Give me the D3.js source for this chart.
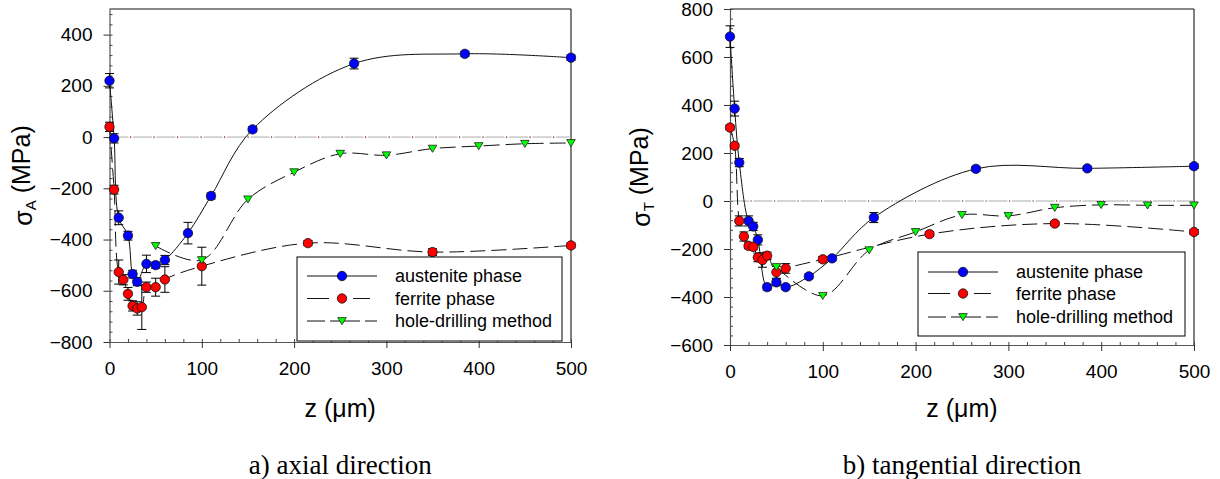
<!DOCTYPE html>
<html>
<head>
<meta charset="utf-8">
<script src="https://cdn.jsdelivr.net/npm/d3@7"></script>
<style>
  html, body { margin: 0; padding: 0; background: #ffffff; }
  svg { display: block; }
  text { font-family: "Liberation Sans", Arial, sans-serif; fill: #000; }
</style>
</head>
<body>
<svg id="chart" width="1220" height="479"></svg>
<script>
// ---- (a) axial direction ----
const axialAusZ   = [0, 5, 10, 20, 25, 30, 40, 50, 60, 85, 110, 155, 265, 385, 500];
const axialAusS   = [220, -5, -315, -385, -535, -565, -495, -500, -480, -375, -230, 30, 287, 325, 310];
const axialAusErr = [28, 18, 27, 17, 15, 15, 34, 12, 18, 42, 12, 10, 21, 10, 10];

const axialFerZ   = [0, 5, 10, 15, 20, 25, 30, 35, 40, 50, 60, 100, 215, 350, 500];
const axialFerS   = [40, -205, -527, -557, -612, -659, -669, -664, -586, -586, -556, -504, -414, -449, -423];
const axialFerErr = [18, 17, 47, 20, 25, 20, 26, 87, 20, 35, 50, 74, 10, 13, 10];

const axialHoleZ  = [50, 100, 150, 200, 250, 300, 350, 400, 450, 500];
const axialHoleS  = [-425, -480, -243, -137, -65, -71, -45, -35, -26, -23];

// ---- (b) tangential direction ----
const tangAusZ    = [0, 5, 10, 20, 25, 30, 40, 50, 60, 85, 110, 155, 265, 385, 500];
const tangAusS    = [685, 385, 160, -83, -106, -162, -359, -339, -359, -314, -239, -69, 134, 136, 145];
const tangAusErr  = [45, 31, 17, 21, 17, 21, 12, 14, 10, 10, 10, 21, 10, 8, 10];

const tangFerZ    = [0, 5, 10, 15, 20, 25, 30, 35, 40, 50, 60, 100, 215, 350, 500];
const tangFerS    = [306, 230, -83, -148, -187, -191, -235, -246, -228, -297, -281, -243, -138, -94, -129];
const tangFerErr  = [10, 10, 21, 19, 12, 12, 18, 30, 15, 25, 20, 12, 10, 8, 10];

const tangHoleZ   = [50, 100, 150, 200, 250, 300, 350, 400, 450, 500];
const tangHoleS   = [-275, -395, -205, -129, -58, -62, -28, -16, -18, -18];

// ---- axes, labels ----
const zTicks        = [0, 100, 200, 300, 400, 500];
const axialTicks    = [-800, -600, -400, -200, 0, 200, 400];
const tangTicks     = [-600, -400, -200, 0, 200, 400, 600, 800];
const seriesNames   = ["austenite phase", "ferrite phase", "hole-drilling method"];
const panelCaptions = ["a) axial direction", "b) tangential direction"];
const yTitleSubs    = ["A", "T"];

const svg = d3.select("#chart");

const styles = [
  { dash: null,   legendDash: null,              fill: "#0000ff", shape: "circle" },
  { dash: "15,6", legendDash: "22,24,17,100",    fill: "#ff0000", shape: "circle" },
  { dash: "16,6", legendDash: "18,5,30,5,15,50", fill: "#00ff00", shape: "triangle" }
];

function marker(g, shape, fill, x, y) {
  if (shape === "circle") {
    g.append("circle").attr("cx", x).attr("cy", y).attr("r", 4.7)
      .attr("fill", fill).attr("stroke", "#111").attr("stroke-width", 0.8);
  } else {
    g.append("path")
      .attr("d", `M${x - 4.3},${y - 3.4}L${x + 4.3},${y - 3.4}L${x},${y + 3.7}Z`)
      .attr("fill", fill).attr("stroke", "#222").attr("stroke-width", 0.8);
  }
}

function panel(opt) {
  const x = d3.scaleLinear().domain([0, 500]).range(opt.xRange);
  const y = d3.scaleLinear().domain(opt.yDomain).range(opt.yRange);
  const g = svg.append("g");
  const [x0, x1] = opt.xRange;
  const [yb, yt] = opt.yRange;

  // frame: top and right edges
  g.append("line").attr("x1", x0).attr("x2", x1).attr("y1", yt).attr("y2", yt)
    .attr("stroke", "#888").attr("stroke-width", 2);
  g.append("line").attr("x1", x1).attr("x2", x1).attr("y1", yt).attr("y2", yb)
    .attr("stroke", "#000").attr("stroke-width", 1);

  // minor ticks (inward)
  const yMinor = d3.range(opt.yDomain[0], opt.yDomain[1] + 1, 40);
  g.append("g").attr("transform", `translate(${x0},0)`)
    .call(d3.axisLeft(y).tickValues(yMinor).tickSize(-3).tickFormat("").tickSizeOuter(0))
    .call(a => a.select(".domain").remove())
    .call(a => a.selectAll("line").attr("stroke", "#444"));
  g.append("g").attr("transform", `translate(0,${yb})`)
    .call(d3.axisBottom(x).tickValues(d3.range(0, 501, 20)).tickSize(-3).tickFormat("").tickSizeOuter(0))
    .call(a => a.select(".domain").remove())
    .call(a => a.selectAll("line").attr("stroke", "#444"));

  // major axes
  const ya = g.append("g").attr("transform", `translate(${x0},0)`)
    .call(d3.axisLeft(y).tickValues(opt.yTicks).tickSize(6).tickPadding(11).tickSizeOuter(0));
  const xa = g.append("g").attr("transform", `translate(0,${yb})`)
    .call(d3.axisBottom(x).tickValues(zTicks).tickSize(6).tickPadding(14).tickSizeOuter(0));
  [ya, xa].forEach(a => {
    a.select(".domain").attr("stroke", "#555").attr("stroke-width", 1.2);
    a.selectAll("line").attr("stroke", "#333");
    a.selectAll("text").style("font-size", "19px").style("font-family", "'Liberation Sans', Arial, sans-serif");
  });

  // zero reference line
  g.append("line").attr("x1", x0).attr("x2", x1).attr("y1", y(0)).attr("y2", y(0))
    .attr("stroke", "#aaa").attr("stroke-width", 1).attr("stroke-dasharray", "19,4.5");
  g.append("line").attr("x1", x0 + 20.5).attr("x2", x1).attr("y1", y(0)).attr("y2", y(0))
    .attr("stroke", "#800000").attr("stroke-width", 1.2).attr("stroke-dasharray", "1.2,22.3");

  const line = d3.line().x(d => x(d[0])).y(d => y(d[1])).curve(d3.curveCatmullRom.alpha(0.5));

  opt.series.forEach((s, i) => {
    const st = styles[i];
    const pts = s.z.map((z, k) => [z, s.s[k]]);
    g.append("path").attr("d", line(pts)).attr("fill", "none")
      .attr("stroke", "#111").attr("stroke-width", 1)
      .attr("stroke-dasharray", st.dash);
  });

  // error bars
  opt.series.forEach(s => {
    if (!s.err) return;
    s.z.forEach((z, k) => {
      const cx = x(z), lo = y(s.s[k] - s.err[k]), hi = y(s.s[k] + s.err[k]);
      g.append("line").attr("x1", cx).attr("x2", cx).attr("y1", lo).attr("y2", hi).attr("stroke", "#000");
      [lo, hi].forEach(v => g.append("line").attr("x1", cx - 4.5).attr("x2", cx + 4.5)
        .attr("y1", v).attr("y2", v).attr("stroke", "#000"));
    });
  });

  // markers
  opt.series.forEach((s, i) => {
    const st = styles[i];
    s.z.forEach((z, k) => marker(g, st.shape, st.fill, x(z), y(s.s[k])));
  });

  // legend
  const L = opt.legend;
  g.append("rect").attr("x", L.x).attr("y", L.y).attr("width", L.w).attr("height", L.h)
    .attr("fill", "#fff").attr("stroke", "#000").attr("stroke-width", 1);
  seriesNames.forEach((name, i) => {
    const st = styles[i];
    const ry = L.y + L.rows[i];
    g.append("line").attr("x1", L.x + 10).attr("x2", L.x + 80).attr("y1", ry).attr("y2", ry)
      .attr("stroke", "#111").attr("stroke-width", 1)
      .attr("stroke-dasharray", st.legendDash);
    marker(g, st.shape, st.fill, L.x + 45, ry);
    g.append("text").attr("x", L.x + 98).attr("y", ry).attr("dy", "0.35em")
      .style("font-size", "18px").text(name);
  });

  // axis titles
  const cx = (x0 + x1) / 2;
  g.append("text").attr("x", cx).attr("y", 417).attr("text-anchor", "middle")
    .style("font-size", "25px").text("z (\u03bcm)");
  const yt2 = g.append("text")
    .attr("transform", `translate(${opt.yTitleX},${(yb + yt) / 2}) rotate(-90)`)
    .attr("text-anchor", "middle").style("font-size", "25px");
  yt2.append("tspan").text("\u03c3");
  yt2.append("tspan").attr("dy", "0.25em").style("font-size", "15px").text(opt.sub);
  yt2.append("tspan").attr("dy", "-0.25em").text(" (MPa)");

  // panel caption
  g.append("text").attr("x", cx).attr("y", 474).attr("text-anchor", "middle")
    .style("font-size", "27px")
    .style("font-family", "'Liberation Serif', 'Times New Roman', serif")
    .text(opt.caption);
}

panel({
  xRange: [109.5, 571], yDomain: [-800, 500], yRange: [342, 9], yTicks: axialTicks,
  series: [
    { z: axialAusZ, s: axialAusS, err: axialAusErr },
    { z: axialFerZ, s: axialFerS, err: axialFerErr },
    { z: axialHoleZ, s: axialHoleS }
  ],
  legend: { x: 297, y: 257, w: 265, h: 84, rows: [19, 41.5, 64] },
  yTitleX: 32, sub: yTitleSubs[0], caption: panelCaptions[0]
});

panel({
  xRange: [730, 1194], yDomain: [-600, 800], yRange: [345, 9], yTicks: tangTicks,
  series: [
    { z: tangAusZ, s: tangAusS, err: tangAusErr },
    { z: tangFerZ, s: tangFerS, err: tangFerErr },
    { z: tangHoleZ, s: tangHoleS }
  ],
  legend: { x: 918, y: 252, w: 267, h: 84, rows: [20, 41.5, 65] },
  yTitleX: 650, sub: yTitleSubs[1], caption: panelCaptions[1]
});
</script>
</body>
</html>
